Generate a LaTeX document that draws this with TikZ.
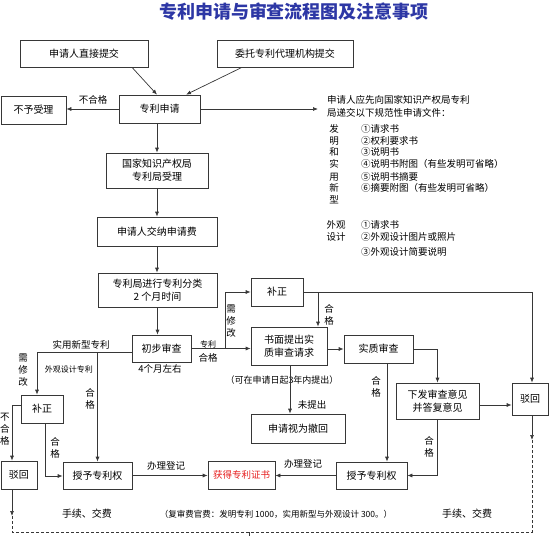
\documentclass[tikz,border=0pt]{standalone}
\usepackage{fontspec}
\setmainfont{Noto Sans CJK SC}
\usetikzlibrary{arrows.meta}
\definecolor{titleblue}{RGB}{45,55,165}
\definecolor{certred}{RGB}{230,30,30}
\definecolor{linegray}{RGB}{55,55,55}
\begin{document}
\begin{tikzpicture}[x=1pt,y=-1pt,
  box/.style={draw=linegray, line width=0.7pt, inner sep=0pt, align=center, font=\fontsize{10}{13}\selectfont},
  arr/.style={draw=linegray, line width=0.7pt, -{Latex[length=5pt,width=4pt]}},
  ln/.style={draw=linegray, line width=0.7pt},
  dashline/.style={draw=linegray, line width=0.6pt, dash pattern=on 3pt off 2pt},
  lbl/.style={inner sep=0pt, align=center, font=\fontsize{9.5}{12}\selectfont},
  small/.style={inner sep=0pt, align=center, font=\fontsize{8}{10}\selectfont},
  note/.style={inner sep=0pt, anchor=west, font=\fontsize{9.5}{12}\selectfont},
  vch/.style={inner sep=0pt, font=\fontsize{9.5}{12}\selectfont}
]
\useasboundingbox (0,0) rectangle (550,536);

% title
\node[font=\fontsize{18}{20}\selectfont\bfseries, text=titleblue] (title) at (294,12) {专利申请与审查流程图及注意事项};

% boxes
\node[box, minimum width=128pt, minimum height=27pt] (A) at (84,53.5) {申请人直接提交};
\node[box, minimum width=136pt, minimum height=27pt] (B) at (285,53.5) {委托专利代理机构提交};
\node[box, minimum width=65pt, minimum height=28pt] (rej0) at (33.5,110) {不予受理};
\node[box, minimum width=81pt, minimum height=28pt] (app) at (159.5,109) {专利申请};
\node[box, minimum width=102pt, minimum height=35pt] (acc) at (157,170.5) {国家知识产权局\\专利局受理};
\node[box, minimum width=120pt, minimum height=29pt] (fee) at (157,231.5) {申请人交纳申请费};
\node[box, minimum width=119pt, minimum height=34pt] (cls) at (157.5,290) {专利局进行专利分类\\2 个月时间};
\node[box, minimum width=59pt, minimum height=27pt] (pre) at (161.5,348.5) {初步审查};
\node[box, minimum width=42pt, minimum height=28pt] (fixL) at (42,409) {补正};
\node[box, minimum width=36pt, minimum height=28pt] (rejL) at (19,475) {驳回};
\node[box, minimum width=69pt, minimum height=27pt] (grantL) at (97.5,475.5) {授予专利权};
\node[box, minimum width=67pt, minimum height=28pt, text=certred, font=\fontsize{9.5}{12}\selectfont] (cert) at (241.5,475) {获得专利证书};
\node[box, minimum width=71pt, minimum height=27pt] (grantR) at (371.5,475.5) {授予专利权};
\node[box, minimum width=52pt, minimum height=28pt] (fixM) at (277,292) {补正};
\node[box, minimum width=76pt, minimum height=38pt] (req) at (289,346) {书面提出实\\质审查请求};
\node[box, minimum width=94pt, minimum height=29pt] (wd) at (298,428.5) {申请视为撤回};
\node[box, minimum width=69pt, minimum height=28pt] (sub) at (378.5,349) {实质审查};
\node[box, minimum width=83pt, minimum height=36pt] (opn) at (437.5,401) {下发审查意见\\并答复意见};
\node[box, minimum width=36pt, minimum height=32pt] (rejR) at (530,399) {驳回};

% helper coordinates
\coordinate (noteArrow) at (318,109);
\coordinate (jL) at (97.5,352);
\coordinate (jM) at (318,292);
\coordinate (jP) at (225,348.5);
\coordinate (dL) at (12,516);
\coordinate (dR) at (532,440);
\coordinate (cBL) at (12,532);
\coordinate (cBR) at (532,532);
\coordinate (tickTop) at (249,532);
\coordinate (tickBot) at (249,536);

% connectors top
\draw[arr] ([xshift=48pt]A.south) -- ([xshift=-2.5pt]app.north);
\draw[arr] ([xshift=-43pt]B.south) -- ([xshift=26.5pt]app.north);
\draw[arr] (app.west) -- (app.west -| rej0.east);
\node[lbl] at (93,100) {不合格};
\draw[arr] (app.east) -- (noteArrow);
\draw[arr] ([xshift=-2.5pt]app.south) -- (acc.north);
\draw[arr] (acc.south) -- (fee.north);
\draw[arr] (fee.south) -- (fee.south |- cls.north);
\draw[arr] (cls.south) -- (cls.south |- pre.north);
\node[lbl] at (160,369) {4个月左右};

% left branch
\draw[arr] ([yshift=-3.5pt]pre.west) -| ([xshift=-5pt]fixL.north);
\draw[arr] (jL) -- (grantL.north);
\node[lbl] at (81,345) {实用新型专利};
\node[lbl] at (23,370) {需\\修\\改};
\node[small] at (69,369) {外观设计专利};
\node[lbl] at (90,399) {合\\格};
\draw[arr] ([yshift=4pt]fixL.west) -| ([xshift=-7pt]rejL.north);
\node[lbl] at (5,429) {不\\合\\格};
\draw[arr] ([xshift=3pt]fixL.south) |- ([yshift=-0.5pt]grantL.west);
\node[lbl] at (55,448) {合\\格};
\draw[arr] (grantL.east) -- (grantL.east -| cert.west);
\node[lbl] at (166,466) {办理登记};
\draw[arr] (grantR.west) -- (grantR.west -| cert.east);
\node[lbl] at (303,464) {办理登记};

% middle
\draw[arr] (pre.east) -- (pre.east -| req.west);
\draw[arr] (jP) |- (fixM.west);
\node[lbl] at (231,321) {需\\修\\改};
\node[small] at (208,344) {专利};
\node[lbl] at (208,358) {合格};
\draw[arr] (fixM.east) -| ([xshift=2pt]rejR.north);
\draw[arr] (jM) -- ([xshift=29pt]req.north);
\node[lbl] at (329,315) {合\\格};
\draw[arr] ([yshift=-3pt]req.east) -- (sub.west);
\node[lbl, font=\fontsize{9}{11}\selectfont] at (282,380) {（可在申请日起3年内提出）};
\draw[arr] ([xshift=1pt]req.south) -- ([xshift=-8pt]wd.north);
\node[lbl] at (312,405) {未提出};

% right
\draw[arr] (sub.east) -| (opn.north);
\draw[arr] ([xshift=8.5pt]sub.south) -- ([xshift=15.5pt]grantR.north);
\node[lbl] at (376,387) {合\\格};
\draw[arr] ([yshift=-4pt]opn.east) -- ([yshift=-6pt]rejR.west);
\draw[arr] (opn.south) |- (grantR.east);
\node[lbl] at (429,447) {合\\格};

% bottom
\draw[arr] ([xshift=-7pt]rejL.south) -- (dL);
\draw[arr] ([xshift=2pt]rejR.south) -- (dR);
\draw[dashline] (dL) -- (cBL) -- (cBR) -- (dR);
\draw[ln] (tickTop) -- (tickBot);
\node[lbl, font=\fontsize{10}{12}\selectfont] at (87,514) {手续、交费};
\node[lbl, font=\fontsize{10}{12}\selectfont] at (467,514) {手续、交费};
\node[lbl, font=\fontsize{8.5}{10}\selectfont] at (276,514) {（复审费官费：发明专利 1000，实用新型与外观设计 300。）};

% notes
\node[note] at (327,100) {申请人应先向国家知识产权局专利};
\node[note] at (327,113) {局递交以下规范性申请文件：};
\node[vch] at (334,129) {发};
\node[vch] at (334,141) {明};
\node[vch] at (334,152) {和};
\node[vch] at (334,164) {实};
\node[vch] at (334,177) {用};
\node[vch] at (334,188) {新};
\node[vch] at (334,200) {型};
\node[note] at (361,129) {①请求书};
\node[note] at (361,141) {②权利要求书};
\node[note] at (361,152) {③说明书};
\node[note] at (361,164) {④说明书附图（有些发明可省略）};
\node[note] at (361,177) {⑤说明书摘要};
\node[note] at (361,188) {⑥摘要附图（有些发明可省略）};
\node[vch] at (336,225) {外观};
\node[vch] at (336,237) {设计};
\node[note] at (361,225) {①请求书};
\node[note] at (361,237) {②外观设计图片或照片};
\node[note] at (361,252) {③外观设计简要说明};
\end{tikzpicture}
\end{document}
